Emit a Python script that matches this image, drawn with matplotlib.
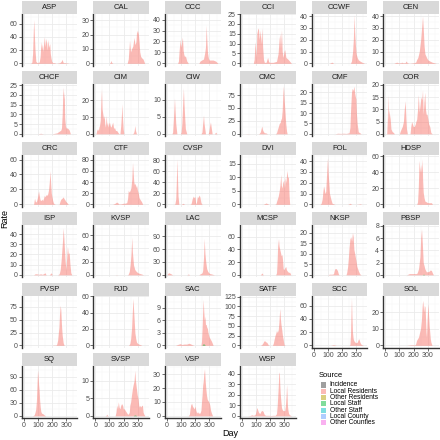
import numpy as np
import matplotlib
matplotlib.use("Agg")
import matplotlib.pyplot as plt
from matplotlib.patches import Rectangle
from matplotlib.ticker import MultipleLocator, FixedLocator

plt.rcParams['font.family'] = ['Liberation Sans', 'DejaVu Sans']

# ---------------- data (Day, Rate of Local Residents) ----------------
ASP_d = [50,58,63,68,71,75,80,86,95,110,116,122,126,130,134,140,146,152,158,163,167,172,178,184,188,193,198,205,215,230,255,265,270,274,280,290,310,320]
ASP_v = [0,2,15,50,66,45,20,3,1,2,10,33,22,30,18,28,40,25,38,30,20,36,24,30,15,8,3,1,1,0,1,3,6,4,1,1,0.5,0]
CAL_d = [100,108,112,116,125,225,233,242,249,256,265,274,280,287,291,298,305,310,314,320,326,337,349]
CAL_v = [0,1,2,0.5,0,0,3,16,8,10,12,18,13,15,21,23,20,14,8,5,4,3,0]
CCC_d = [75,81,86,93,97,102,109,114,119,125,130,140,151,225,233,245,258,267,272,277,281,286,292,298,310,326,344,360]
CCC_v = [0,2,12,22,15,18,24,12,8,6,7,2,0,0,2,3,4,10,15,35,22,10,5,3,3,3,2,0]
CCI_d = [80,86,90,93,100,105,110,116,122,128,134,140,146,152,158,170,181,188,193,220,244,255,262,267,272,279,284,291,297,302,310,326,349]
CCI_v = [0,2,8,11,3,15,17,18,12,17,10,18,8,2,0.5,0.5,3,1,0.5,0.5,1,5,12,15,8,17,6,3,6,7,3,2,0]
CCWF_d = [110,120,128,135,140,260,267,275,280,286,290,295,300,307,315,326,340,350,360]
CCWF_v = [0,0.5,1,0.5,0,0,2,10,20,41,25,15,8,5,3,2,1,0.5,0]
CEN_d = [60,70,81,90,100,110,116,125,140,147,155,170,200,215,221,230,240,250,258,263,268,274,280,291,300,314,330,345,361]
CEN_v = [0,0.5,1,0.5,0.5,0.5,1,0.5,0.5,2,0.5,0,0.5,1,3,5,10,20,32,40,30,15,8,5,3,2,1,0.5,0]
CHCF_d = [100,115,120,125,140,200,235,244,255,263,267,272,276,279,283,286,290,295,300,309,315,321,330]
CHCF_v = [0,0.2,0.3,0.2,0,0,0.5,1,1.5,2,3,10,20,24,18,22,8,4,3,3,2.5,2,0]
CIM_d = [5,10,16,22,26,30,35,40,44,48,53,58,63,67,72,77,82,86,91,95,100,105,110,115,123,130,135,143,151,163,170,174,180,185,188,192,197,202,215,260,270,275,279,284,291,300]
CIM_v = [0,2,3,2,4,5,8,20,27,15,12,9,11,6,4,11,5,7,4,6,7,5,4,5,7,3,4,2,2,0.5,0,0,5,12,18,10,3,0,0,0,0.5,2,5,2,0,0]
CIW_d = [35,40,45,50,53,57,62,70,95,100,105,110,116,120,125,130,140,240,247,252,258,262,267,272,290,295,300,307,312,319,335,344,352]
CIW_v = [0,0.5,4,8,10.5,7,3,0,0,0.5,3,8,13.5,9,5,1.5,0,0,0.5,3,5.5,3,1.5,0,0,0.5,2,3.5,2,0,0,0.5,0]
CMC_d = [20,40,60,115,123,130,135,140,145,150,158,166,174,180,235,244,250,258,263,270,275,279,284,289,293,297,302,309,315,319]
CMC_v = [0,0.3,0,0,1,4,10,15,8,5,2,2,1,0,0,2,8,15,20,22,28,30,45,80,93,70,50,20,5,0]
CMF_d = [150,170,190,210,230,250,256,261,267,272,278,284,289,294,298,302,307,315,326,335]
CMF_v = [0,0.3,0.2,0.3,0.2,0.5,3,12,20,22,21,23,20,18,17,10,5,1,0.5,0]
COR_d = [10,14,19,22,26,30,35,40,48,58,65,100,105,112,120,128,134,140,146,150,156,175,180,186,192,198,205,212,216,222,228,233,240,246,252,258,263,268,273,279,284,289,295,301,307,314,322,332]
COR_v = [0,5,16,6,10,8,6,2,1,0.5,0,0,1,2,3,5,10,13.5,6,2,0,0,3,5,4,3,3,4,5,6,10,16,9,12,15,14,18,8,13,17,10,8,8,6,4,3,0.5,0]
CRC_d = [70,74,77,82,86,92,98,105,110,116,122,128,134,140,146,152,158,163,170,176,181,186,190,195,200,205,210,216,225,250,258,263,270,275,279,284,291,297,302,307,315]
CRC_v = [0,5,8,4,3,5,10,18,12,6,5,7,5,8,12,10,13,12,14,20,30,45,30,15,10,5,2,0.5,0,0,5,7,8,9,10,8,6,4,3,2,0]
CTF_d = [120,128,140,145,151,158,165,170,185,198,210,222,228,233,240,246,252,258,263,268,272,277,282,286,291,298,304,309,318,326,335]
CTF_v = [0,0.5,2,3,4,3,1,0.5,1,2,2,3,10,25,22,25,30,45,75,55,40,35,38,30,35,25,20,12,8,5,0]
CVSP_d = [50,56,62,66,70,74,78,84,95,105,112,118,125,160,168,172,178,186,192,198,202,205,209,215,220,226,232,240,248]
CVSP_v = [0,1,10,40,82,50,15,0,0,0.5,2,1,0,0,0.5,3,10,15,12,14,3,0.5,5,15,12,17,14,3,0]
DVI_d = [150,170,190,230,240,244,250,256,263,268,274,278,283,288,295,300,305,310,315,318,323,328,333,337]
DVI_v = [0,0.5,0,0,0.2,1,2,3,5,7,11,7,6,8,9,6,10,8,11,12.5,10,10,3,0]
FOL_d = [45,53,60,65,70,75,80,85,90,95,98,102,107,112,121,130,140,150,240,250,256,262,270,300,320,326,332,340]
FOL_v = [0,1,5,12,17,14,10,12,25,38,43,30,20,10,5,1,0.5,0,0,0.5,1,0.5,0,0,0.3,0.5,0.3,0]
HDSP_d = [222,228,233,237,240,245,250,255,260,264,268,274,280,291,300,310,320,326,333]
HDSP_v = [0,3,20,45,55,40,50,40,57,30,15,8,4,3,2,2,2,2,0]
ISP_d = [70,81,93,105,120,130,140,145,151,156,160,180,188,193,198,202,240,251,258,265,270,275,279,283,288,292,298,303,309,315,321,327,333,340]
ISP_v = [0,1,1,0.5,1,0.5,1,1.5,2,0.5,0,0,1,2,1,0,0,1,5,15,25,35,46,38,25,15,5,15,28,20,22,10,2,0]
KVSP_d = [140,150,160,225,233,240,246,252,258,262,266,270,279,290,302,315,330,340]
KVSP_v = [0,0.3,0,0,1,5,15,30,57,35,25,15,8,5,3,2,1,0]
LAC_d = [0,5,12,18,25,30,35,40,140,151,160,225,233,240,248,252,258,263,268,274,280,288,295,302,315,325,335]
LAC_v = [0,3,5,4,3,2,1,0,0,2,0,0,2,3,5,10,40,85,50,30,15,8,5,3,2,1,0]
MCSP_d = [130,136,140,145,150,238,244,248,252,258,262,267,272,277,282,286,291,295,300,305,309,314,320,328,337,345]
MCSP_v = [0,1.5,3,1.5,0,0,3,20,45,57,45,40,35,30,32,25,10,8,10,12,13,8,6,4,4,0]
NKSP_d = [100,110,130,140,145,151,157,163,168,174,180,228,233,240,245,250,256,262,268,274,279,284,290,298,305,315,325,335]
NKSP_v = [0,0.3,0.3,0.5,2,3,3,2.5,2,0.5,0,0,1,4,8,13,17,18,16,20,18,12,10,7,4,2,0.5,0]
PBSP_d = [150,170,190,210,222,228,235,240,245,250,256,262,268,274,279,290,300,310,318,326,333,340]
PBSP_v = [0,0.2,0.2,0.2,0.2,0.5,1,2,3,6,7.5,5,2,1.5,1,0.5,0.5,0.6,0.8,0.7,0.3,0]
PVSP_d = [200,210,220,228,233,240,245,249,253,258,262,267,272,279,286]
PVSP_v = [0,0.5,0.5,0.5,2,10,25,35,60,78,70,40,20,5,0]
RJD_d = [235,244,250,256,260,264,267,270,275,280,286,291,300,315,330]
RJD_v = [0,2,8,20,35,50,57,45,30,15,8,4,2,1,0]
SAC_d = [60,75,93,105,120,140,155,163,175,190,240,244,248,252,256,260,264,268,272,277,281,284,290,298,306,314,326]
SAC_v = [0,0.2,0.4,0.2,0.3,0.3,0.5,0.4,0.2,0,0,1,4,8,11,8,6,7,5,5,4,4.5,3,2,1.5,1,0]
SATF_d = [130,140,148,153,158,163,168,174,180,186,195,215,221,227,233,238,244,250,256,261,265,267,271,275,281,286,291,297,305]
SATF_v = [0,2,6,10,12,11,9,8,5,1,0,0,5,15,25,30,38,33,40,60,85,95,70,55,40,25,15,2,0]
SCC_d = [120,130,140,150,160,250,256,260,264,267,270,274,279,284,291,297,302,308,313,318,322,326,333,340,350]
SCC_v = [0,0.5,1,0.5,0,0,1,15,50,72,45,20,10,7,5,4,4,5,8,10,8,5,2,1,0]
SOL_d = [150,180,210,215,221,228,235,243,249,255,260,264,267,271,276,281,285,288,291,295,298,302,306,310,314,318,322,330]
SOL_v = [0,0.3,0.3,1,3,4,5,8,10,15,23,27,25,20,24,23,15,8,5,15,20,25,18,12,8,4,2,0]
SQ_d = [60,65,70,75,80,85,90,95,98,102,106,109,113,117,121,127,135,145,155]
SQ_v = [0,0.5,1,3,8,15,35,80,105,90,70,60,35,20,10,6,5,2,0]
SVSP_d = [70,78,81,85,90,140,146,151,157,163,168,174,180,186,193,198,205,212,220,228,233,240,244,250,256,263,268,274,279,284,290,296,302,307,312,318,323,328,333,338,343,350]
SVSP_v = [0,0.2,0.5,0.2,0,0,1,3,2,4,2.5,2,3,3.5,3,2,2,1.5,1,0.5,0.5,1,3,4,6,8,9,10,13,10,8,6,5,3,2.5,3,2.5,3,3,1,0.5,0]
VSP_d = [150,158,163,168,174,180,186,192,198,204,210,216,222,228,233,240,244,248,252,256,260,265,270,274,279,284,290,296,302,308,314,322]
VSP_v = [0,1,5,8,9,7,6,5,7,4,2,3,2,2,2,4,10,15,22,25,30,34,25,20,15,12,11,10,8,4,2,0]
WSP_d = [40,55,60,70,80,90,95,100,105,110,115,120,125,132,138,144,150,155,160,168,174,190,205,220,235,244,249,255,260,264,267,270,274,279,284,290,296,302,307,312,315,318,321,325,330,336,342,350]
WSP_v = [0,0.3,0.5,1,0.5,1,2,5,8,6,4,3,2,4,5,5,4,2,1,0.5,0.5,0.5,0.3,0.5,0.5,2,10,25,40,42,30,22,15,8,6,5,5,5,10,20,30,22,10,5,2,1,0.5,0]

# small Local Staff contributions
staff_facets = ['SAC', 'PBSP', 'SVSP']
staff_days = [[248, 252, 258, 264, 270], [262, 266, 270, 274, 278], [268, 274, 280, 286, 292]]
staff_vals = [[0, 0.3, 0.35, 0.3, 0], [0, 0.08, 0.1, 0.08, 0], [0, 0.2, 0.25, 0.2, 0]]

facets = ['ASP','CAL','CCC','CCI','CCWF','CEN',
          'CHCF','CIM','CIW','CMC','CMF','COR',
          'CRC','CTF','CVSP','DVI','FOL','HDSP',
          'ISP','KVSP','LAC','MCSP','NKSP','PBSP',
          'PVSP','RJD','SAC','SATF','SCC','SOL',
          'SQ','SVSP','VSP','WSP']
y_top = [75, 34.5, 45.4, 25.2, 42, 42,
         25.5, 29.7, 14.6, 96, 24, 20.3,
         66.5, 89, 90, 18.3, 46, 62,
         48.7, 75, 116, 78, 23.5, 8.1,
         97, 60.5, 11.9, 127.8, 75, 29.8,
         114, 14.2, 35.8, 47.4]
y_step = [20, 10, 10, 5, 10, 10,
          5, 10, 5, 25, 5, 5,
          20, 20, 20, 5, 10, 20,
          10, 20, 30, 20, 5, 2,
          25, 20, 3, 25, 20, 10,
          30, 5, 10, 10]
x_ticks = [0, 100, 200, 300]

sources = ['Incidence', 'Local Residents', 'Other Residents', 'Local Staff',
           'Other Staff', 'Local County', 'Other Counties']
src_colors = ['#404040', '#F8766D', '#B79F00', '#00BA38', '#00BFC4', '#619CFF', '#F564E3']

# ---------------- layout ----------------
W = H = 440
fig = plt.figure(figsize=(4.4, 4.4), dpi=100)
col_x = [21.7, 93.3, 165.0, 240.0, 311.7, 383.3]
pw = 55.5
ph = 52.0
strip_h = 13.0
row_bottom = [65.7 + 70.5 * r for r in range(6)]
bottom_panels = {'SQ', 'SVSP', 'VSP', 'WSP', 'SCC', 'SOL'}

txt_col = '#4D4D4D'
axis_col = '#333333'

for i, name in enumerate(facets):
    r, c = divmod(i, 6)
    x0 = col_x[c]
    yb = row_bottom[r]
    ax = fig.add_axes([x0 / W, 1 - yb / H, pw / W, ph / H])
    days = globals()[name + '_d']
    vals = globals()[name + '_v']
    ax.fill_between(days, 0, vals, color=src_colors[1], alpha=0.5, lw=0, zorder=3)
    if name in staff_facets:
        k = staff_facets.index(name)
        ax.fill_between(staff_days[k], 0, staff_vals[k], color=src_colors[3], alpha=0.5, lw=0, zorder=4)
    top = y_top[i]
    ax.set_xlim(-14, 378)
    ax.set_ylim(-top * 0.05 / 1.05, top)
    step = y_step[i]
    yt = list(np.arange(0, top, step))
    ax.yaxis.set_major_locator(FixedLocator(yt))
    ax.yaxis.set_minor_locator(MultipleLocator(step / 2))
    ax.xaxis.set_major_locator(FixedLocator(x_ticks))
    ax.xaxis.set_minor_locator(MultipleLocator(50))
    ax.grid(which='major', color='#EBEBEB', lw=0.6, zorder=0)
    ax.grid(which='minor', color='#F4F4F4', lw=0.35, zorder=0)
    ax.set_axisbelow(True)
    for s in ['top', 'right']:
        ax.spines[s].set_visible(False)
    ax.spines['left'].set_color(axis_col)
    ax.spines['left'].set_linewidth(1.0)
    ax.tick_params(axis='y', which='major', labelsize=5, colors=axis_col, labelcolor=txt_col,
                   length=2, width=0.5, pad=1)
    ax.tick_params(which='minor', length=0)
    ax.set_yticklabels([('%g' % v) for v in yt])
    if name in bottom_panels:
        ax.spines['bottom'].set_color(axis_col)
        ax.spines['bottom'].set_linewidth(1.0)
        ax.tick_params(axis='x', which='major', labelsize=5, colors=axis_col, labelcolor=txt_col,
                       length=2, width=0.5, pad=1)
        ax.set_xticklabels([str(v) for v in x_ticks])
    else:
        ax.spines['bottom'].set_visible(False)
        ax.tick_params(axis='x', which='major', length=0, labelbottom=False)
    ax.set_facecolor('white')
    # strip
    ax.add_patch(Rectangle((0, 1), 1, strip_h / ph, transform=ax.transAxes,
                           facecolor='#D9D9D9', edgecolor='none', clip_on=False, zorder=5))
    ax.text(0.5, 1 + strip_h / ph / 2, name, transform=ax.transAxes, ha='center', va='center',
            fontsize=5.5, color='#1A1A1A', zorder=6)

# axis titles & legend on an overlay axes in pixel coords
ov = fig.add_axes([0, 0, 1, 1], facecolor='none')
ov.set_xlim(0, W)
ov.set_ylim(H, 0)
ov.axis('off')
ov.text(5, 218, 'Rate', rotation=90, ha='center', va='center', fontsize=6.5, color='black')
ov.text(230, 434, 'Day', ha='center', va='center', fontsize=6.5, color='black')
ov.text(318.5, 375.5, 'Source', ha='left', va='center', fontsize=5.5, color='black')
for k, (s, col) in enumerate(zip(sources, src_colors)):
    yy = 385.0 + 6.3 * k
    ov.add_patch(Rectangle((320.5, yy - 2.6), 5.2, 5.2, facecolor=col, alpha=0.5, edgecolor='none'))
    ov.text(329.5, yy, s, ha='left', va='center', fontsize=4.8, color='black')

fig.savefig('out.png', dpi=100)
